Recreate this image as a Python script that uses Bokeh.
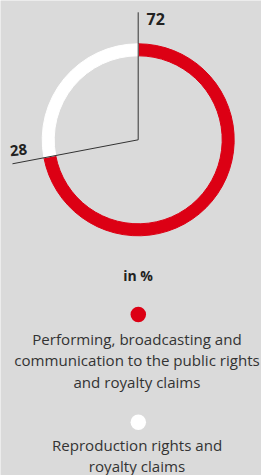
from bokeh.plotting import figure
from bokeh.models import Range1d, ColumnDataSource
from bokeh.core.properties import value
from bokeh.embed import file_html
from bokeh.resources import INLINE
import math

# ---- data ----
categories = ["Performing, broadcasting and\ncommunication to the public rights\nand royalty claims",
              "Reproduction rights and\nroyalty claims"]
shares = [72, 28]
share_labels = ["72", "28"]
colors = ["#dc0014", "#ffffff"]
unit_label = "in %"

BG = "#dadada"
TXT = "#333333"
FONT = "Open Sans"

W, H = 261, 475
p = figure(width=W, height=H, output_backend="svg", toolbar_location=None,
           x_range=Range1d(0, W), y_range=Range1d(0, H),
           min_border=0, background_fill_color=BG, border_fill_color=BG,
           outline_line_color=None)
p.axis.visible = False
p.grid.visible = False

def Y(y):
    return 475 - y

cx, cy = 137.7, Y(139.3)
r_out, r_in = 96, 84

# wedges: start at top, red clockwise, white counterclockwise
total = sum(shares)
top = math.pi / 2
red_span = 2 * math.pi * shares[0] / total
white_span = 2 * math.pi * shares[1] / total
starts = [top - red_span, top]
ends = [top, top + white_span]
src = ColumnDataSource(dict(x=[cx, cx], y=[cy, cy], s=starts, e=ends, c=colors))
p.annular_wedge(x="x", y="y", inner_radius=r_in, outer_radius=r_out,
                start_angle="s", end_angle="e", color="c", source=src)

# leader lines
L1 = 127.5
L2 = 128
a2 = top + white_span
p.line([cx, cx], [cy, cy + L1], line_color=TXT, line_width=1)
p.line([cx, cx + L2 * math.cos(a2)], [cy, cy + L2 * math.sin(a2)], line_color=TXT, line_width=1)

p.text(x=[146], y=[Y(18.3)], text=[share_labels[0]], text_font=value(FONT),
       text_font_style="bold", text_font_size="16px", text_color="#222222",
       text_baseline="middle", text_align="left")
p.text(x=[9.5], y=[Y(150.7)], text=[share_labels[1]], text_font=value(FONT),
       text_font_style="bold", text_font_size="15px", text_color="#222222",
       text_baseline="middle", text_align="left", angle=0.1)

# legend
p.text(x=[137.5], y=[Y(275)], text=[unit_label], text_font=value(FONT),
       text_font_style="bold", text_font_size="14px", text_color="#222222",
       text_baseline="middle", text_align="center")

dot_y = [314, 421.7]
text_y = [338, 444]
p.scatter(x=[137.8, 137.8], y=[Y(v) for v in dot_y], size=15.5, color=colors,
          line_color=None)
for lab, ty in zip(categories, text_y):
    for i, line in enumerate(lab.split("\n")):
        p.text(x=[136.5], y=[Y(ty + i * 21.5)], text=[line], text_font=value(FONT),
               text_font_size="15.1px", text_color=TXT,
               text_baseline="middle", text_align="center")

open("out.html", "w").write(file_html(p, INLINE))
